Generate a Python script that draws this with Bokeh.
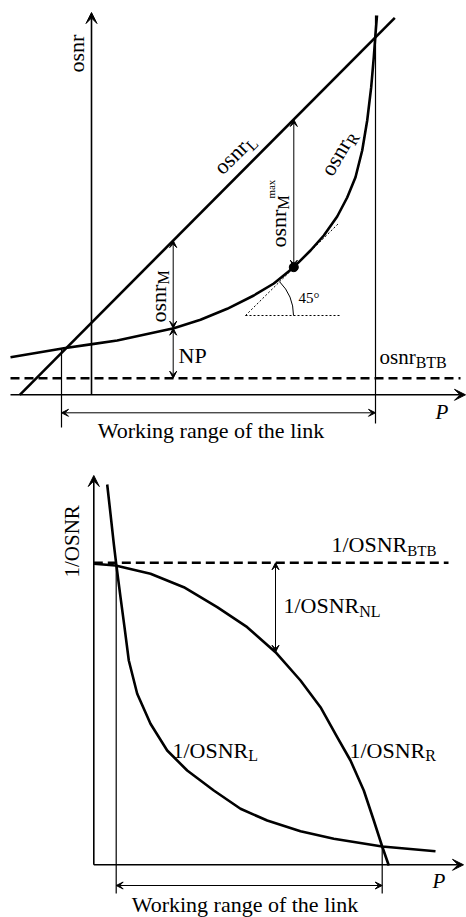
import math
from bokeh.plotting import figure
from bokeh.models import Range1d, Arrow, VeeHead
from bokeh.layouts import column
from bokeh.core.properties import value
from bokeh.embed import file_html
from bokeh.resources import INLINE

FONT = "Liberation Serif"

# ---------------- top panel: osnr vs P (panel units, y grows downward)
top_L_P = [19.3, 394.3]
top_L_osnr = [394.3, 17.3]
top_R_P = [10, 36.7, 63.3, 90, 116.7, 143.3, 173.3, 200, 226.7, 253.3, 273.3, 293.3, 310,
           323.3, 336.7, 346.7, 355, 361.7, 366.7, 370.7, 373.3, 375, 376.5]
top_R_osnr = [356.7, 352.3, 347.7, 343.9, 340, 334.3, 327.7, 319.3, 308.3, 295, 283, 266.7,
              250, 235, 216, 197, 176.7, 150, 120, 86.7, 56.7, 33.3, 15]
top_btb_osnr = 377.7
top_btb_P = [10, 460]
top_range_P = [61, 375]
top_M_P, top_M_L, top_M_R = 172.7, 240.1, 327.7
top_max_P, top_max_L, top_max_R = 293.3, 119.0, 266.7
top_tan_P = [245, 338]
top_tan_osnr = [315, 223]
top_hor_P = [245, 340]

# ---------------- bottom panel: 1/OSNR vs P
bot_L_P = [106.7, 110, 113.3, 115.7, 120, 124, 128.3, 136.7, 150, 166.7, 186.7, 213.3, 240,
           266.7, 300, 333.3, 381.7, 435]
bot_L_inv = [24, 53.3, 83.3, 103.3, 136.7, 166.7, 200, 233.3, 263.3, 290, 310, 330, 348.3,
             360, 370.7, 378.3, 386, 390.7]
bot_R_P = [93.3, 115, 150, 183.3, 216.7, 246.7, 275, 300, 320, 336.7, 350, 363.3, 373.3,
           381.7, 388.3]
bot_R_inv = [103.3, 105, 113.3, 126.7, 146.7, 166.7, 191.7, 220, 246.7, 276.7, 300, 330, 360,
             386, 405]
bot_btb_inv = 102.3
bot_btb_P = [93.3, 448]
bot_range_P = [115.7, 381.7]
bot_NL_P, bot_NL_top, bot_NL_bot = 275, 102.3, 191.7

# Times/Liberation Serif advance widths (per 1000 em)
W = {'o': 500, 's': 389, 'n': 500, 'r': 333, '1': 500, '/': 278, 'O': 722, 'S': 556,
     'N': 722, 'R': 667, 'B': 667, 'T': 611, 'L': 611, 'M': 889, 'm': 778, 'a': 444, 'x': 500}

BASE_FIX = 0.32  # svg text sits lower than the alphabetic baseline; compensate (em)


def tw(s, size):
    return sum(W.get(c, 500) for c in s) * size / 1000.0


def txt(p, x, y, t, size, angle=0.0, align="left", style="normal"):
    a = math.radians(angle)
    up = (-math.sin(a), -math.cos(a))
    k = BASE_FIX * size
    p.text(x=[x + up[0] * k], y=[y + up[1] * k], text=[t], angle=a,
           text_font=value(FONT), text_font_size=f"{size}px", text_font_style=style,
           text_align=align, text_baseline="alphabetic", text_color="black")


def label(p, x, y, main, size=22, angle=0.0, sub=None, sub_size=16, sub_shift=4,
          sup=None, sup_size=11, sup_shift=11, sup_offset=0.0):
    a = math.radians(angle)
    d = (math.cos(a), -math.sin(a))
    dn = (math.sin(a), math.cos(a))
    txt(p, x, y, main, size, angle)
    w = tw(main, size)
    ex, ey = x + d[0] * w, y + d[1] * w
    if sub:
        txt(p, ex + dn[0] * sub_shift, ey + dn[1] * sub_shift, sub, sub_size, angle)
    if sup:
        sx, sy = ex + d[0] * sup_offset, ey + d[1] * sup_offset
        txt(p, sx - dn[0] * sup_shift, sy - dn[1] * sup_shift, sup, sup_size, angle)


def arrow(p, x0, y0, x1, y1, size=7, lw=1.0, both=True):
    head = lambda: VeeHead(size=size, fill_color="black", line_color="black", line_width=1)
    p.add_layout(Arrow(start=head() if both else None, end=head(),
                       x_start=x0, y_start=y0, x_end=x1, y_end=y1,
                       line_color="black", line_width=lw))


def make_fig(h):
    p = figure(width=466, height=h, x_range=Range1d(0, 466), y_range=Range1d(h, 0),
               x_axis_type=None, y_axis_type=None, toolbar_location=None,
               output_backend="svg", min_border=0)
    p.outline_line_color = None
    p.background_fill_color = "white"
    p.border_fill_color = "white"
    p.xgrid.visible = False
    p.ygrid.visible = False
    return p


# ======================= TOP =======================
p1 = make_fig(460)
arrow(p1, 91, 394.3, 91, 12, size=11, lw=1.6, both=False)
arrow(p1, 10, 394.3, 465, 394.3, size=11, lw=1.6, both=False)
p1.line([top_range_P[0]] * 2, [348, 427], line_color="black", line_width=1.2)
p1.line([top_range_P[1]] * 2, [15, 423], line_color="black", line_width=1.2)
p1.line(top_btb_P, [top_btb_osnr] * 2, line_color="black", line_width=2.5, line_dash="9 5")
p1.line(top_L_P, top_L_osnr, line_color="black", line_width=2.6)
p1.line(top_R_P, top_R_osnr, line_color="black", line_width=2.6, line_join="round")
p1.line(top_tan_P, top_tan_osnr, line_color="black", line_width=1, line_dash="2 2")
p1.line(top_hor_P, [top_tan_osnr[0]] * 2, line_color="black", line_width=1, line_dash="2 2")
p1.arc(x=[top_tan_P[0]], y=[top_tan_osnr[0]], radius=48, start_angle=0, end_angle=math.pi / 4,
       line_color="black", line_width=1)
p1.scatter([top_max_P], [top_max_R], size=9, color="black")
arrow(p1, top_M_P, top_M_R, top_M_P, top_M_L)
arrow(p1, top_M_P, top_M_R, top_M_P, top_btb_osnr)
arrow(p1, top_max_P, top_max_R, top_max_P, top_max_L)
arrow(p1, top_range_P[0], 412.3, top_range_P[1], 412.3)
label(p1, 83.5, 72, "osnr", 22, 90)
label(p1, 222, 175, "osnr", 22, 45, sub="L")
label(p1, 331.7, 176.7, "osnr", 22, 60, sub="R")
label(p1, 165, 322, "osnr", 22, 90, sub="M", sub_shift=3)
label(p1, 285, 247, "osnr", 22, 90, sub="M", sub_shift=3, sup="max", sup_size=11,
      sup_shift=11, sup_offset=11)
txt(p1, 298, 302, "45°", 15)
txt(p1, 178, 362, "NP", 22)
label(p1, 379, 363, "osnr", 21, 0, sub="BTB", sub_size=16, sub_shift=4)
txt(p1, 435, 418, "P", 21, style="italic")
txt(p1, 210.5, 437, "Working range of the link", 22, align="center")

# ======================= BOTTOM =======================
p2 = make_fig(457)
arrow(p2, 93.3, 404.3, 93.3, 15, size=11, lw=1.6, both=False)
arrow(p2, 93.3, 404.3, 463, 404.3, size=11, lw=1.6, both=False)
p2.line([bot_range_P[0]] * 2, [103, 433], line_color="black", line_width=1.2)
p2.line([bot_range_P[1]] * 2, [386, 433], line_color="black", line_width=1.2)
p2.line(bot_btb_P, [bot_btb_inv] * 2, line_color="black", line_width=2.5, line_dash="9 5")
p2.line(bot_L_P, bot_L_inv, line_color="black", line_width=2.6, line_join="round")
p2.line(bot_R_P, bot_R_inv, line_color="black", line_width=2.6, line_join="round")
arrow(p2, bot_NL_P, bot_NL_top, bot_NL_P, bot_NL_bot)
arrow(p2, bot_range_P[0], 425, bot_range_P[1], 425)
label(p2, 78, 117, "1/OSNR", 21, 90)
label(p2, 331, 91, "1/OSNR", 22, 0, sub="BTB", sub_size=15)
label(p2, 283, 152, "1/OSNR", 22, 0, sub="NL", sub_size=16)
label(p2, 172, 297, "1/OSNR", 22, 0, sub="L", sub_size=16, sub_shift=3)
label(p2, 349, 297, "1/OSNR", 22, 0, sub="R", sub_size=16, sub_shift=3)
txt(p2, 432, 427, "P", 21, style="italic")
txt(p2, 244.5, 451.5, "Working range of the link", 22, align="center")

layout = column(p1, p2, spacing=0)
open("out.html", "w").write(file_html(layout, INLINE))
